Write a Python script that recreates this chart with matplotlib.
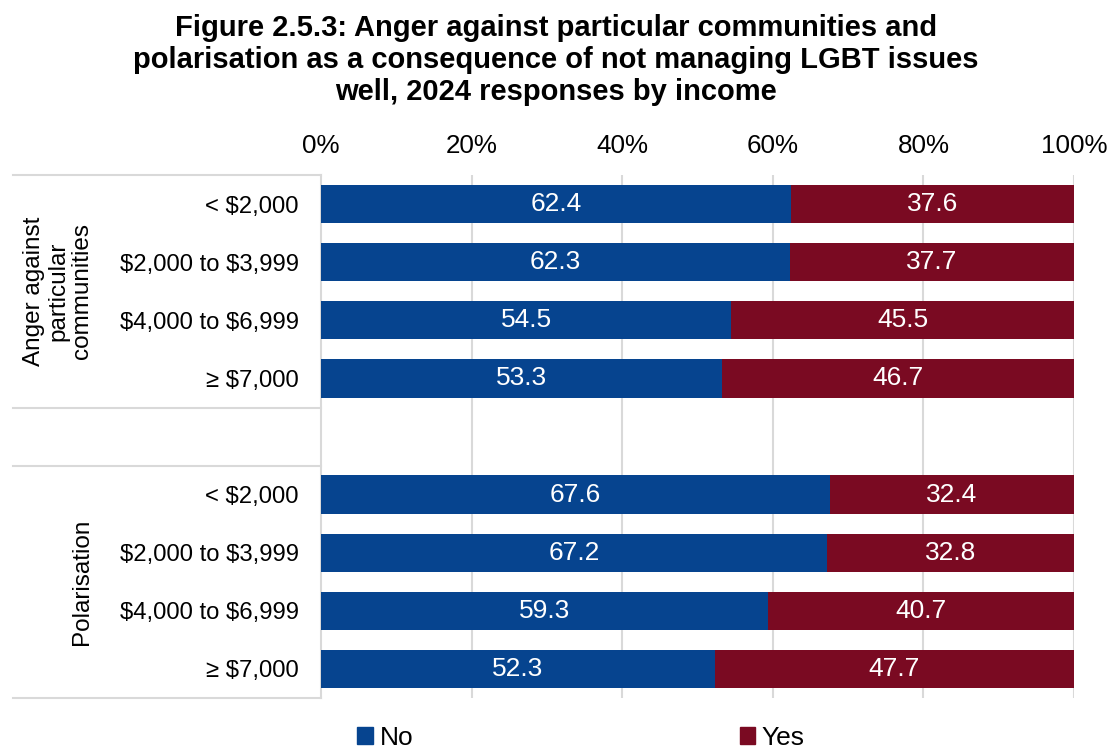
import numpy as np
import matplotlib.pyplot as plt
from matplotlib.patches import Patch
from matplotlib.lines import Line2D

plt.rcParams['font.family'] = ['Liberation Sans', 'DejaVu Sans']

# income bands, listed once per group
income = [r"< \$2,000", r"\$2,000 to \$3,999", r"\$4,000 to \$6,999", r"≥ \$7,000"]
groups = ["Anger against\nparticular\ncommunities", "Polarisation"]

anger_no = [62.4, 62.3, 54.5, 53.3]
anger_yes = [37.6, 37.7, 45.5, 46.7]
polar_no = [67.6, 67.2, 59.3, 52.3]
polar_yes = [32.4, 32.8, 40.7, 47.7]

blue = "#06448F"
red = "#7A0A22"
grid_c = "#D9D9D9"

fig = plt.figure(figsize=(11.12, 7.49), dpi=100)
W, H = 1112, 749
x0, x1, ytop, ybot = 321, 1074, 175, 698
ax = fig.add_axes([x0 / W, 1 - ybot / H, (x1 - x0) / W, (ybot - ytop) / H])

# rows 0-3 first group, row 4 blank, rows 5-8 second group
pos = [0, 1, 2, 3, 5, 6, 7, 8]
no_vals = anger_no + polar_no
yes_vals = anger_yes + polar_yes
labels = income + income

ax.barh(pos, no_vals, height=0.66, color=blue, zorder=3)
ax.barh(pos, yes_vals, left=no_vals, height=0.66, color=red, zorder=3)

for p, n, y in zip(pos, no_vals, yes_vals):
    ax.text(n / 2, p, f"{n:.1f}", ha="center", va="center", color="white", fontsize=19, zorder=4)
    ax.text(n + y / 2, p, f"{y:.1f}", ha="center", va="center", color="white", fontsize=19, zorder=4)

ax.set_xlim(0, 100)
ax.set_ylim(8.5, -0.5)
ax.set_xticks(np.arange(0, 101, 20))
ax.set_xticklabels([f"{v}%" for v in range(0, 101, 20)])
ax.xaxis.tick_top()
ax.tick_params(axis="x", length=0, pad=12, labelsize=18.7)
ax.set_yticks(pos)
ax.set_yticklabels(labels)
ax.tick_params(axis="y", length=0, pad=16, labelsize=17.2)

for v in range(20, 101, 20):
    ax.axvline(v, color=grid_c, lw=1.5, zorder=1)
for s in ax.spines.values():
    s.set_visible(False)
ax.spines["left"].set_visible(True)
ax.spines["left"].set_color(grid_c)
ax.spines["left"].set_linewidth(1.5)

# category separators on the left side
for yy in [ytop, 408, 466, ybot]:
    fig.add_artist(Line2D([13 / W, x0 / W], [1 - yy / H, 1 - yy / H], color=grid_c, lw=1.5))

fig.text(93 / W, 1 - 291 / H, groups[0], rotation=90, ha="right", va="center",
         multialignment="center", fontsize=17.5, linespacing=1.12)
fig.text(93 / W, 1 - 582 / H, groups[1], rotation=90, ha="right", va="center",
         fontsize=17.5)

fig.text(556 / W, 1 - 60 / H,
         "Figure 2.5.3: Anger against particular communities and\n"
         "polarisation as a consequence of not managing LGBT issues\n"
         "well, 2024 responses by income",
         ha="center", va="center", fontsize=21, fontweight="bold", linespacing=1.18)

handles = [Patch(color=blue, label="No"), Patch(color=red, label="Yes")]
fig.legend(handles=handles, loc="center", bbox_to_anchor=(581 / W, 1 - 738 / H), ncol=2,
           frameon=False, fontsize=19, handlelength=0.6, handleheight=0.6,
           handletextpad=0.25, columnspacing=12.37, borderpad=0)

fig.savefig("out.png", dpi=100)
